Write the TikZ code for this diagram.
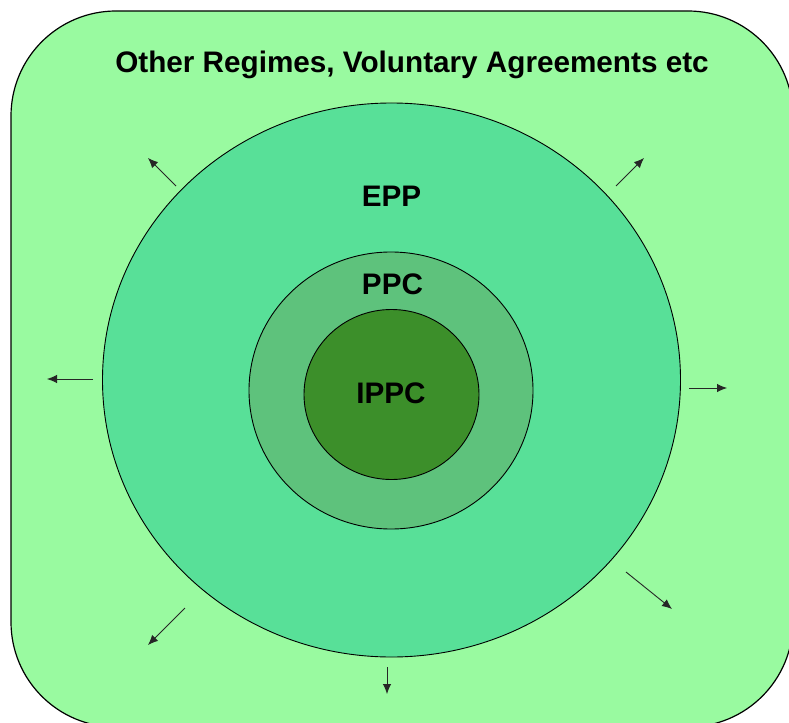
\documentclass[tikz,border=0pt]{standalone}
\usepackage{fontspec}
\setmainfont{Liberation Sans}
\usetikzlibrary{arrows.meta}
\definecolor{outerg}{RGB}{153,250,160}
\definecolor{eppg}{RGB}{88,224,152}
\definecolor{ppcg}{RGB}{94,194,124}
\definecolor{ippcg}{RGB}{60,143,42}
\tikzset{
  lbl/.style={font=\fontsize{29.8}{31}\selectfont\bfseries, anchor=base, inner sep=0pt},
  ring/.style={draw=black, line width=0.9bp},
  outarrow/.style={draw=black!85, line width=0.9bp, -{Latex[length=10bp,width=8.5bp]}}
}
\begin{document}
\begin{tikzpicture}[x=1bp,y=-1bp]
\useasboundingbox (0,0) rectangle (789,723);
\clip (0,0) rectangle (789,723);
\draw[fill=outerg, line width=1.2bp, rounded corners=105bp] (11,11) rectangle (793,727);
\draw[ring, fill=eppg] (391.5,380) ellipse [x radius=289bp, y radius=277bp];
\draw[ring, fill=ppcg] (391,390.5) ellipse [x radius=142bp, y radius=138.5bp];
\draw[ring, fill=ippcg] (391.5,394.5) ellipse [x radius=87.5bp, y radius=85bp];
\node[lbl] (title) at (412,73) {Other Regimes, Voluntary Agreements etc};
\node[lbl] (epp) at (391.5,206) {EPP};
\node[lbl] (ppc) at (392.5,294) {PPC};
\node[lbl] (ippc) at (391,403) {IPPC};
% arrows
\coordinate (a1s) at (176,186); \coordinate (a1e) at (148,158);
\coordinate (a2s) at (616,186); \coordinate (a2e) at (644,158);
\coordinate (a3s) at (93,379);  \coordinate (a3e) at (47,379);
\coordinate (a4s) at (689,388); \coordinate (a4e) at (727,388);
\coordinate (a5s) at (626,572); \coordinate (a5e) at (672,609);
\coordinate (a6s) at (185,608); \coordinate (a6e) at (148,645);
\coordinate (a7s) at (387,667); \coordinate (a7e) at (387,694);
\foreach \i in {1,...,7} { \draw[outarrow] (a\i s) -- (a\i e); }
\end{tikzpicture}
\end{document}
